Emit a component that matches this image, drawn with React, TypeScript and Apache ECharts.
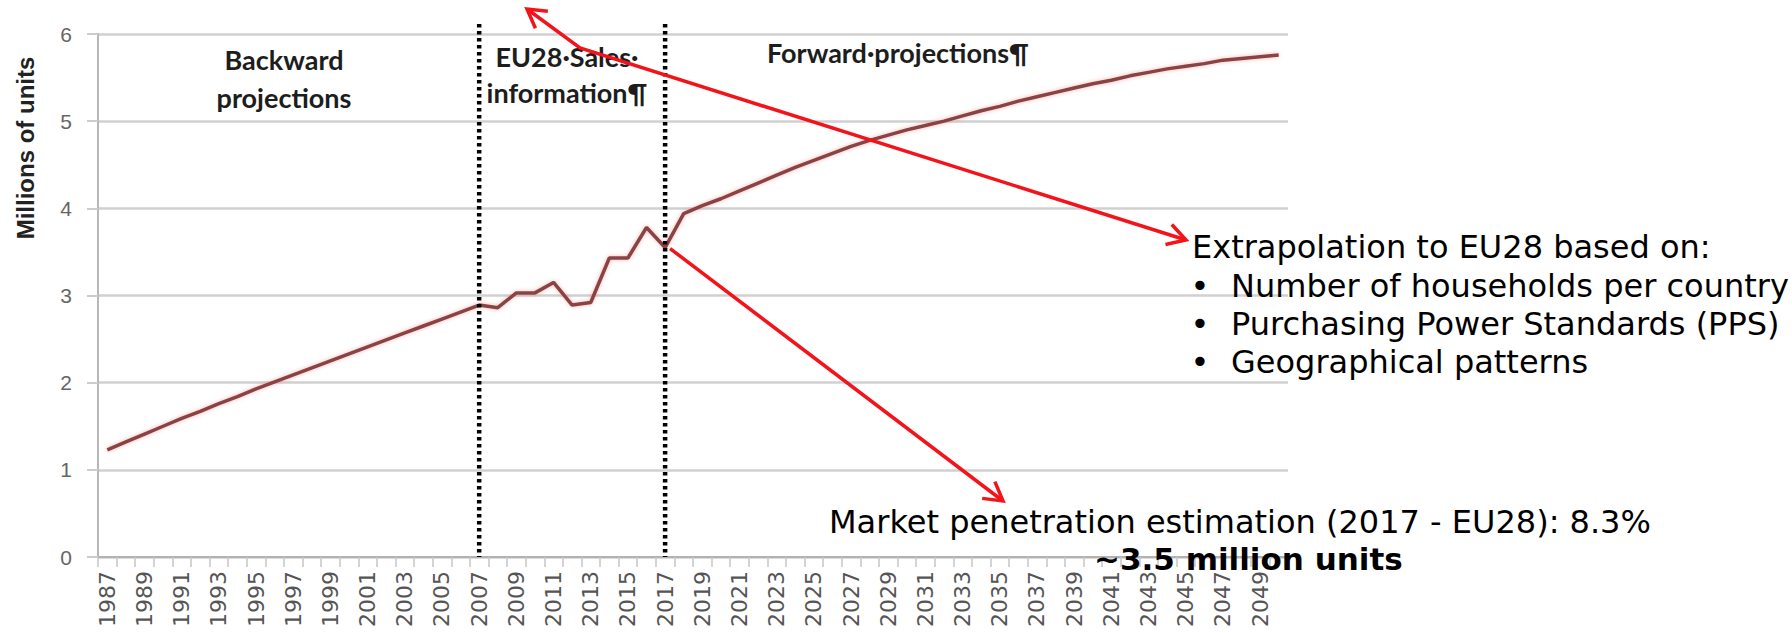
import React, { useEffect, useRef } from 'react';
import * as echarts from 'echarts';

// Categories: one per year, 1987–2050
const years = [
  '1987', '1988', '1989', '1990', '1991', '1992', '1993', '1994', '1995', '1996',
  '1997', '1998', '1999', '2000', '2001', '2002', '2003', '2004', '2005', '2006',
  '2007', '2008', '2009', '2010', '2011', '2012', '2013', '2014', '2015', '2016',
  '2017', '2018', '2019', '2020', '2021', '2022', '2023', '2024', '2025', '2026',
  '2027', '2028', '2029', '2030', '2031', '2032', '2033', '2034', '2035', '2036',
  '2037', '2038', '2039', '2040', '2041', '2042', '2043', '2044', '2045', '2046',
  '2047', '2048', '2049', '2050',
];

// Millions of units, 1987–2007 (backward projections)
const backwardValues = [
  1.23, 1.32, 1.41, 1.5, 1.59, 1.67, 1.76, 1.84, 1.93, 2.01,
  2.09, 2.17, 2.25, 2.33, 2.41, 2.49, 2.57, 2.65, 2.73, 2.81, 2.89,
];

// Millions of units, 2008–2017 (EU28 sales information)
const salesValues = [2.86, 3.03, 3.03, 3.15, 2.89, 2.92, 3.43, 3.43, 3.78, 3.55];

// Millions of units, 2018–2050 (forward projections)
const forwardValues = [
  3.94, 4.03, 4.11, 4.2, 4.29, 4.38, 4.47, 4.55, 4.63, 4.71,
  4.78, 4.84, 4.9, 4.95, 5.0, 5.06, 5.12, 5.17, 5.23, 5.28,
  5.33, 5.38, 5.43, 5.47, 5.52, 5.56, 5.6, 5.63, 5.66, 5.7,
  5.72, 5.74, 5.76,
];

// Period boundaries marked with dotted lines
const periodBreaks = ['2007', '2017'];

const yAxisTitle = 'Millions of units';
const backwardLabel = ['Backward', 'projections'];
const salesLabel = ['EU28\u00b7Sales\u00b7', 'information\u00b6'];
const forwardLabel = 'Forward\u00b7projections\u00b6';

const extrapolationTitle = 'Extrapolation to EU28 based on:';
const extrapolationItems = [
  'Number of households per country',
  'Purchasing Power Standards (PPS)',
  'Geographical patterns',
];
const penetrationNote = 'Market penetration estimation (2017 - EU28): 8.3%';
const unitsNote = '~3.5 million units';

const RED = '#f2141a';
const W = 1792;
const H = 633;

function arrowHead(tip: number[], from: number[], len = 21, spread = Math.PI / 6) {
  const a = Math.atan2(tip[1] - from[1], tip[0] - from[0]);
  const p1 = [tip[0] - len * Math.cos(a - spread), tip[1] - len * Math.sin(a - spread)];
  const p2 = [tip[0] - len * Math.cos(a + spread), tip[1] - len * Math.sin(a + spread)];
  return {
    type: 'polyline',
    z: 100,
    shape: { points: [p1, tip, p2] },
    style: { stroke: RED, lineWidth: 3.5, fill: null, lineJoin: 'miter' },
  };
}

function label(text: string, x: number, y: number, extra: any = {}) {
  return {
    type: 'text',
    z: 90,
    x,
    y,
    style: {
      text,
      fontFamily: 'Lato',
      fontWeight: 'bold',
      fontSize: 27,
      fill: '#1d1d1d',
      align: 'center',
      verticalAlign: 'middle',
      ...extra,
    },
  };
}

function note(text: string, x: number, y: number, extra: any = {}) {
  return {
    type: 'text',
    z: 90,
    x,
    y,
    style: {
      text,
      fontFamily: 'DejaVu Sans',
      fontSize: 32,
      fill: '#000000',
      align: 'left',
      verticalAlign: 'middle',
      ...extra,
    },
  };
}

export default function App() {
  const ref = useRef<HTMLDivElement>(null);

  useEffect(() => {
    const el = ref.current;
    if (!el) return;
    const chart = echarts.init(el, undefined, { renderer: 'svg', width: W, height: H });
    const values = [...backwardValues, ...salesValues, ...forwardValues];

    chart.setOption({
      animation: false,
      backgroundColor: '#ffffff',
      grid: { left: 98, right: 504, top: 34, bottom: 76, containLabel: false },
      xAxis: {
        type: 'category',
        data: years,
        boundaryGap: true,
        axisLine: { show: true, lineStyle: { color: '#b2b2b2', width: 2 } },
        axisTick: { show: true, interval: 0, length: 10, lineStyle: { color: '#c6c6c6', width: 1.5 } },
        axisLabel: {
          interval: 1,
          rotate: 90,
          margin: 14,
          fontFamily: 'DejaVu Sans',
          fontSize: 22,
          color: '#555555',
        },
        splitLine: { show: false },
      },
      yAxis: {
        type: 'value',
        min: 0,
        max: 6,
        interval: 1,
        axisLine: { show: true, lineStyle: { color: '#b8b8b8', width: 2 } },
        axisTick: { show: true, length: 11, lineStyle: { color: '#cccccc', width: 2 } },
        axisLabel: { margin: 26, fontFamily: 'Liberation Sans', fontSize: 21, color: '#666666' },
        splitLine: { lineStyle: { color: '#d0d0d0', width: 2.5 } },
      },
      series: [
        {
          type: 'line',
          data: values,
          symbol: 'none',
          z: 5,
          lineStyle: {
            color: '#8a4343',
            width: 3.5,
            shadowColor: 'rgba(230,120,120,0.55)',
            shadowBlur: 4,
          },
        },
      ],
    });

    // Dotted period separators, placed on the category axis
    const yBottom = chart.convertToPixel({ yAxisIndex: 0 }, 0) as number;
    const separators = periodBreaks.map((yr) => {
      const x = chart.convertToPixel({ xAxisIndex: 0 }, yr) as number;
      return {
        type: 'line',
        z: 80,
        shape: { x1: x, y1: 24, x2: x, y2: yBottom },
        style: { stroke: '#000000', lineWidth: 4.5, lineDash: [3.5, 3.5], lineCap: 'butt' },
      };
    });

    // Arrow from the 2017 sales point towards the penetration note
    const p2017 = chart.convertToPixel({ seriesIndex: 0 }, ['2017', values[years.indexOf('2017')]]) as number[];
    const pStart = [p2017[0] + 5, p2017[1] + 1];
    const pNote = [1003, 501];

    // Two-headed arrow linking the note block to the top of the chart
    const aRight = [1186, 240];
    const aBend = [580, 48];
    const aTop = [527, 9];

    chart.setOption({
      graphic: [
        ...separators,
        {
          type: 'text',
          z: 90,
          x: 25,
          y: 148,
          rotation: Math.PI / 2,
          style: {
            text: yAxisTitle,
            fontFamily: 'Liberation Sans',
            fontWeight: 'bold',
            fontSize: 24,
            fill: '#222222',
            align: 'center',
            verticalAlign: 'middle',
          },
        },
        label(backwardLabel[0], 284, 59),
        label(backwardLabel[1], 284, 97),
        label(salesLabel[0], 567, 56),
        label(salesLabel[1], 567, 92),
        label(forwardLabel, 898, 52),

        note(extrapolationTitle, 1192, 247),
        ...extrapolationItems.map((t, i) => note(t, 1231, 286 + i * 38)),
        ...extrapolationItems.map((_, i) => note('\u2022', 1200, 286 + i * 38, { align: 'center' })),
        note(penetrationNote, 829, 522),
        note(unitsNote, 1094, 559, { fontWeight: 'bold', fontSize: 31 }),

        {
          type: 'polyline',
          z: 100,
          shape: { points: [aRight, aBend, aTop] },
          style: { stroke: RED, lineWidth: 3.5, fill: null },
        },
        arrowHead(aRight, aBend),
        arrowHead(aTop, aBend),
        {
          type: 'polyline',
          z: 100,
          shape: { points: [pStart, pNote] },
          style: { stroke: RED, lineWidth: 3.5, fill: null },
        },
        arrowHead(pNote, pStart),
      ],
    });

    return () => chart.dispose();
  }, []);

  return (
    <div
      ref={ref}
      style={{ position: 'absolute', left: 0, top: 0, width: W, height: H, background: '#fff' }}
    />
  );
}
